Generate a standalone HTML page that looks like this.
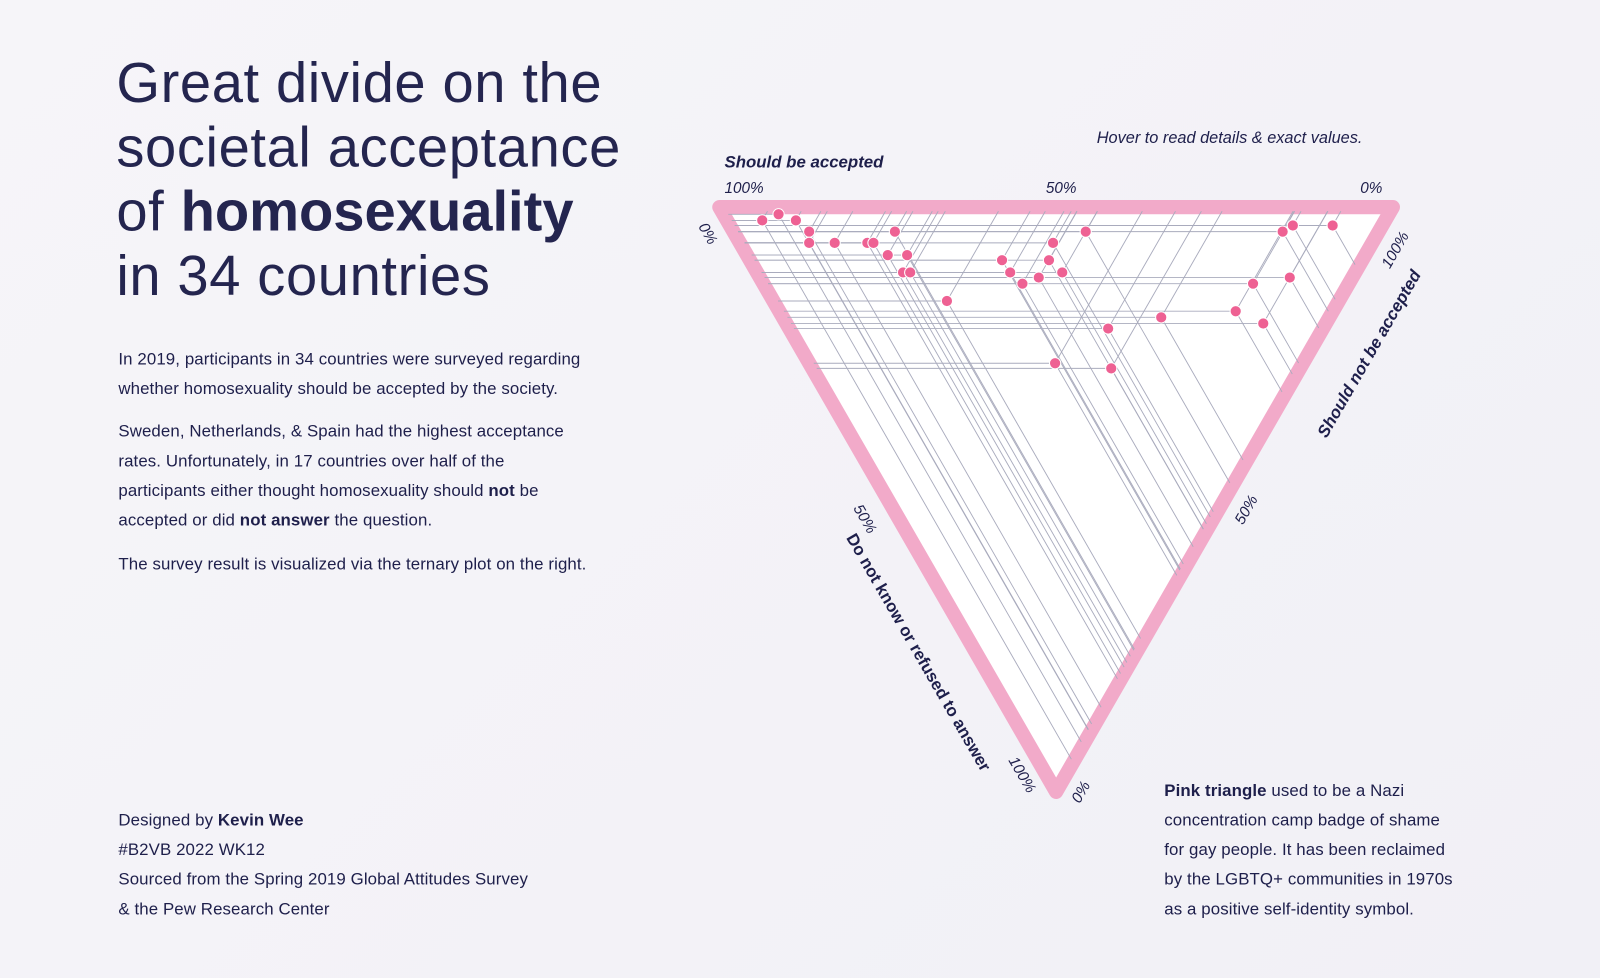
<!DOCTYPE html>
<html><head><meta charset="utf-8">
<style>
html,body{margin:0;padding:0;width:1600px;height:978px;overflow:hidden;background:#f4f3f8;}
#wrap{position:absolute;left:0;top:0;width:1568px;height:958.5px;transform:scale(1.0204);transform-origin:0 0;
 background:linear-gradient(135deg,#f6f5f9 0%,#f3f2f7 60%,#f1f0f6 100%);font-family:"Liberation Sans",sans-serif;color:#1e1f4b;}
.t{position:absolute;left:114px;font-size:55px;line-height:63px;letter-spacing:0.6px;font-weight:300;top:50px;color:#24254f}
.p{position:absolute;left:116px;font-size:16.5px;line-height:29px;width:505px;letter-spacing:0.1px;}
.p b{font-weight:bold}
svg{position:absolute;left:0;top:0}
</style></head><body><div id="wrap">
<div class="t">Great divide on the<br>societal acceptance<br>of <b style="font-weight:bold;letter-spacing:0">homosexuality</b><br>in 34 countries</div>
<div class="p" style="top:338px">In 2019, participants in 34 countries were surveyed regarding<br>whether homosexuality should be accepted by the society.</div>
<div class="p" style="top:409px">Sweden, Netherlands, &amp; Spain had the highest acceptance<br>rates. Unfortunately, in 17 countries over half of the<br>participants either thought homosexuality should <b>not</b> be<br>accepted or did <b>not answer</b> the question.</div>
<div class="p" style="top:539px">The survey result is visualized via the ternary plot on the right.</div>
<div class="p" style="top:790px">Designed by <b>Kevin Wee</b><br>#B2VB 2022 WK12<br>Sourced from the Spring 2019 Global Attitudes Survey<br>&amp; the Pew Research Center</div>
<div class="p" style="top:761px;left:1141px;width:330px">
<b>Pink triangle</b> used to be a Nazi<br>concentration camp badge of shame<br>for gay people. It has been reclaimed<br>by the LGBTQ+ communities in 1970s<br>as a positive self-identity symbol.</div>
<svg width="1568" height="958" viewBox="0 0 1568 958" id="s" font-family="Liberation Sans, sans-serif" fill="#1e1f4b">
<polygon points="705,203 1365,203 1035,776" fill="#fff" stroke="#f2aac9" stroke-width="14" stroke-linejoin="round"/>
<g id="lines" stroke="#a9abbd" stroke-width="0.9" fill="none"></g>
<g id="dots" fill="#ee6193" stroke="#fff" stroke-width="1"></g>
<text x="1205" y="140" font-size="16" font-style="italic" text-anchor="middle">Hover to read details &amp; exact values.</text>
<text x="710" y="164" font-size="16.5" font-style="italic" font-weight="bold">Should be accepted</text>
<text x="710" y="189" font-size="15" font-style="italic">100%</text>
<text x="1025" y="189" font-size="15" font-style="italic">50%</text>
<text x="1333" y="189" font-size="15" font-style="italic">0%</text>
<text transform="translate(684,222) rotate(60)" font-size="15" font-style="italic">0%</text>
<text transform="translate(1362,264) rotate(-60)" font-size="15" font-style="italic">100%</text>
<text transform="translate(1300,430) rotate(-60)" font-size="16.5" font-style="italic" font-weight="bold">Should not be accepted</text>
<text transform="translate(1218,515) rotate(-60)" font-size="15" font-style="italic">50%</text>
<text transform="translate(836,498) rotate(60)" font-size="15" font-style="italic">50%</text>
<text transform="translate(829,527) rotate(60)" font-size="16.5" font-weight="bold">Do not know or refused to answer</text>
<text transform="translate(988,745) rotate(60)" font-size="15" font-style="italic">100%</text>
<text transform="translate(1058,788) rotate(-60)" font-size="15" font-style="italic">0%</text>
</svg>
<script>
var P=[[747,216],[763,210],[780,216],[793,227],[793,238],[818,238],[850,238],[856,238],[877,227],[870,250],[889,250],[885,267],[892,267],[928,295],[982,255],[990,267],[1002,278],[1018,272],[1028,255],[1032,238],[1041,267],[1064,227],[1034,356],[1089,361],[1086,322],[1138,311],[1211,305],[1228,278],[1238,317],[1257,227],[1267,221],[1264,272],[1306,221]];
var k=323/563,L='',D='';
P.forEach(function(p){var x=p[0],y=p[1];
var xl=712+(y-207)*k; L+='<line x1="'+xl+'" y1="'+y+'" x2="'+x+'" y2="'+y+'"/>';
var xt=x+(y-207)*k; L+='<line x1="'+x+'" y1="'+y+'" x2="'+xt+'" y2="207"/>';
var tt=(1358-k*(y-207)-x)/(2*k);
L+='<line x1="'+x+'" y1="'+y+'" x2="'+(x+k*tt)+'" y2="'+(y+tt)+'"/>';
D+='<circle cx="'+x+'" cy="'+y+'" r="5.5"/>';});
document.getElementById('lines').innerHTML=L;document.getElementById('dots').innerHTML=D;
</script>
</div></body></html>
